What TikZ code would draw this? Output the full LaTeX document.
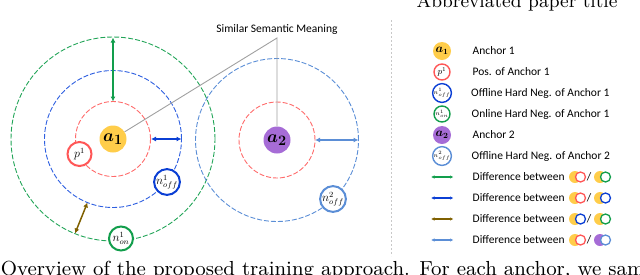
\documentclass[tikz,border=0pt]{standalone}
\usepackage{fontspec}
\usepackage{graphicx}
\usepackage{amsmath,bm}
\newfontfamily\calib{Carlito}
\usetikzlibrary{arrows.meta}
\definecolor{ayel}{HTML}{FFCD4A}
\definecolor{apur}{HTML}{A66CD6}
\definecolor{pred}{HTML}{FF5757}
\definecolor{dred}{HTML}{FF6B6B}
\definecolor{nblue}{HTML}{0B3FD4}
\definecolor{dblue}{HTML}{2E5FE0}
\definecolor{ngreen}{HTML}{129E4C}
\definecolor{dgreen}{HTML}{22A558}
\definecolor{lblue}{HTML}{5B8ED6}
\definecolor{brn}{HTML}{7F6000}
\definecolor{gline}{HTML}{A0A0A0}
\definecolor{sepc}{HTML}{C8C8C8}
\begin{document}
\begin{tikzpicture}[x=1pt,y=-1pt,
  dcirc/.style={line width=0.9pt, dash pattern=on 5pt off 2pt},
  anc/.style={circle, inner sep=0pt, minimum size=27pt, font=\fontsize{19}{19}\selectfont},
  neg/.style={circle, fill=white, inner sep=0pt, minimum size=24pt, line width=2pt, font=\fontsize{12}{12}\selectfont},
  lanc/.style={circle, inner sep=0pt, minimum size=18pt, font=\fontsize{12}{12}\selectfont},
  lneg/.style={circle, fill=white, inner sep=0pt, minimum size=16pt, line width=1.4pt, font=\fontsize{6}{6}\selectfont},
  dif/.style={line width=1.6pt, arrows={Latex[length=5pt,width=5pt]-Latex[length=5pt,width=5pt]}},
  ldif/.style={line width=1.2pt, arrows={Latex[length=3.5pt,width=3.5pt]-Latex[length=3.5pt,width=3.5pt]}},
  ltxt/.style={anchor=west, inner sep=0pt, font=\calib\fontsize{11.5}{13}\selectfont},
  dotc/.style={circle, inner sep=0pt, minimum size=12pt},
  ringc/.style={circle, fill=white, inner sep=0pt, minimum size=10pt, line width=1.3pt},
  captxt/.style={anchor=base west, inner sep=0pt}]
\useasboundingbox (0,0) rectangle (640,274);
\clip (0,0) rectangle (640,274);

% running head and caption
\node[captxt] (head) at (416.5,7.7) {\scalebox{2.105}{\fontsize{9}{11}\selectfont Abbreviated paper title}};
\node[captxt] (capt) at (0.6,275.5) {\scalebox{2.26}{\fontsize{9}{11}\selectfont Overview of the proposed training approach. For each anchor, we sample}};

% separator
\coordinate (s1) at (391,20);
\coordinate (s2) at (391,256);
\draw[sepc, line width=0.7pt, dash pattern=on 2pt off 2pt] (s1) -- (s2);

% anchor centers
\coordinate (c1) at (113,139);
\coordinate (c2) at (277,140);

% dashed circles
\draw[dcirc, dgreen] (c1) circle[radius=102pt];
\draw[dcirc, dblue] (c1) circle[radius=68.5pt];
\draw[dcirc, dred] (c1) circle[radius=37.5pt];
\draw[dcirc, lblue] (c2) circle[radius=81.5pt];
\draw[dcirc, dred] (c2) circle[radius=38pt];

% similar semantic meaning
\node[inner sep=0pt, font=\calib\fontsize{11.5}{13}\selectfont] (lbl) at (277,29.5) {Similar Semantic Meaning};
\coordinate (jn) at (277,38);

% anchors
\node[anc, fill=ayel] (a1) at (c1) {$\bm{a_1}$};
\node[anc, fill=apur] (a2) at (c2) {$\bm{a_2}$};
\draw[gline, line width=0.9pt] (a1) -- (jn) -- (a2);

% samples
\node[neg, draw=pred] (p1) at (79.5,154) {$p^1$};
\node[neg, draw=nblue] (nf1) at (167,182) {$n^1_{off}$};
\node[neg, draw=ngreen] (nn1) at (121,238.5) {$n^1_{on}$};
\node[neg, draw=lblue] (nf2) at (333,199) {$n^2_{off}$};

% difference arrows
\coordinate (gA) at (113,37.5);
\coordinate (gB) at (113,101.5);
\draw[dif, draw=ngreen, fill=ngreen, line width=1.3pt] (gA) -- (gB);
\coordinate (bA) at (151,139);
\coordinate (bB) at (181.5,139);
\draw[dif, draw=nblue, fill=nblue, line width=2pt] (bA) -- (bB);
\coordinate (rA) at (75,233.5);
\coordinate (rB) at (87.5,202.5);
\draw[dif, draw=brn, fill=brn, line width=1.5pt] (rA) -- (rB);
\coordinate (lA) at (315,140);
\coordinate (lB) at (358.5,140);
\draw[dif, draw=lblue, fill=lblue, line width=1.5pt] (lA) -- (lB);

% legend icons
\node[lanc, fill=ayel] (la1) at (442,51) {$\bm{a_1}$};
\node[lneg, draw=pred, font=\fontsize{9}{9}\selectfont] (lp1) at (442,72) {$p^1$};
\node[lneg, draw=nblue] (lnf1) at (442,93) {$n^1_{off}$};
\node[lneg, draw=ngreen] (lnn1) at (442,114) {$n^1_{on}$};
\node[lanc, fill=apur] (la2) at (442,135) {$\bm{a_2}$};
\node[lneg, draw=lblue] (lnf2) at (442,156) {$n^2_{off}$};

\node[ltxt] (t1) at (472.5,51) {Anchor 1};
\node[ltxt] (t2) at (472.5,72) {Pos. of Anchor 1};
\node[ltxt] (t3) at (471,93) {Offline Hard Neg. of Anchor 1};
\node[ltxt] (t4) at (471.5,114) {Online Hard Neg. of Anchor 1};
\node[ltxt] (t5) at (472.5,135) {Anchor 2};
\node[ltxt] (t6) at (471.5,156) {Offline Hard Neg. of Anchor 2};

% legend arrows and pairs
\foreach \yy/\cc/\nm/\da/\ra/\db/\rb in {177/ngreen/g/ayel/pred/ayel/ngreen, 198/nblue/b/ayel/pred/ayel/nblue, 219/brn/r/ayel/nblue/ayel/ngreen, 240/lblue/l/ayel/pred/apur/lblue}{
  \coordinate (\nm L) at (431,\yy);
  \coordinate (\nm R) at (453.5,\yy);
  \draw[ldif, draw=\cc, fill=\cc] (\nm L) -- (\nm R);
  \node[ltxt] (\nm T) at (472.5,\yy) {Difference between};
  \node[dotc, fill=\da] (\nm D1) at (575,\yy) {};
  \node[ringc, draw=\ra] (\nm R1) at (580.5,\yy) {};
  \node[inner sep=0pt, font=\calib\fontsize{11.5}{13}\selectfont] (\nm S) at (589,\yy) {/};
  \node[dotc, fill=\db] (\nm D2) at (600,\yy) {};
  \node[ringc, draw=\rb] (\nm R2) at (605.5,\yy) {};
}
\end{tikzpicture}
\end{document}
